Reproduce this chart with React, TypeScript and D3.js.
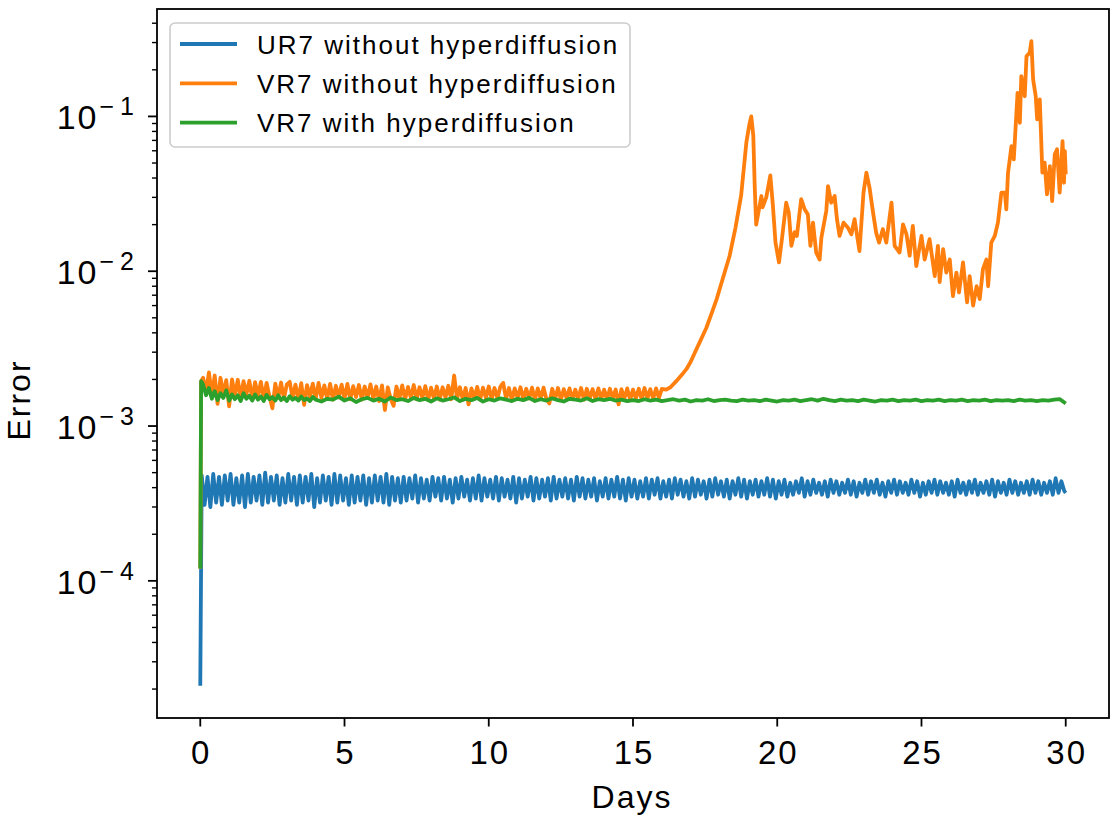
import React from "react";
import * as d3 from "d3";

// ---------------- DATA ----------------
const seriesNames = [
  "UR7 without hyperdiffusion",
  "VR7 without hyperdiffusion",
  "VR7 with hyperdiffusion",
];
const seriesColors = ["#1f77b4", "#ff7f0e", "#2ca02c"];
const xTicks = [0, 5, 10, 15, 20, 25, 30];
const yMajorExponents = [-4, -3, -2, -1];

// UR7 without hyperdiffusion (blue) - start point, then oscillation samples every 0.1 day
const blueStartDays = [0];
const blueStartValues = [0.000021];
const blueGridDays = d3.range(0.05, 30, 0.1);
const blueGridValues = [
  0.00048,0.00031,0.00047,0.00030,0.00049,0.00032,0.00047,0.00031,0.00048,0.00033,0.00049,0.00031,0.00046,0.00032,0.00048,0.00030,0.00049,0.00032,0.00047,0.00033,
  0.00048,0.00031,0.00050,0.00032,0.00047,0.00033,0.00048,0.00031,0.00046,0.00032,0.00049,0.00033,0.00047,0.00031,0.00048,0.00032,0.00047,0.00033,0.00049,0.00030,
  0.00046,0.00032,0.00048,0.00033,0.00047,0.00031,0.00049,0.00032,0.00048,0.00033,0.00046,0.00031,0.00048,0.00032,0.00047,0.00033,0.00048,0.00031,0.00046,0.00032,
  0.00048,0.00033,0.00047,0.00032,0.00049,0.00031,0.00047,0.00033,0.00046,0.00032,
  0.00047,0.00033,0.00046,0.00034,0.00048,0.00032,0.00046,0.00034,0.00045,0.00033,0.00047,0.00035,0.00046,0.00033,0.00047,0.00034,0.00045,0.00032,0.00046,0.00034,
  0.00047,0.00035,0.00045,0.00033,0.00046,0.00034,0.00048,0.00033,0.00046,0.00035,0.00045,0.00034,0.00047,0.00033,0.00046,0.00035,0.00045,0.00034,0.00047,0.00032,
  0.00046,0.00034,0.00045,0.00035,0.00047,0.00033,0.00046,0.00034,0.00045,0.00035,0.00046,0.00033,0.00047,0.00034,0.00045,0.00035,0.00046,0.00034,0.00045,0.00033,
  0.00047,0.00035,0.00046,0.00034,0.00045,0.00035,0.00046,0.00033,0.00044,0.00035,0.00046,0.00034,0.00045,0.00035,0.00047,0.00034,0.00045,0.00033,0.00046,0.00035,
  0.00045,0.00034,0.00044,0.00035,0.00046,0.00034,0.00045,0.00036,0.00046,0.00034,0.00044,0.00035,0.00045,0.00034,0.00046,0.00036,0.00045,0.00035,0.00044,0.00034,
  0.00046,0.00035,0.00045,0.00036,0.00044,0.00034,0.00045,0.00035,0.00046,0.00036,0.00044,0.00035,0.00045,0.00034,0.00044,0.00036,0.00046,0.00035,0.00045,0.00034,
  0.00044,0.00036,0.00045,0.00035,0.00044,0.00036,0.00046,0.00035,0.00045,0.00034,
  0.00044,0.00036,0.00045,0.00035,0.00043,0.00036,0.00044,0.00037,0.00046,0.00035,0.00044,0.00036,0.00045,0.00037,0.00043,0.00036,0.00044,0.00035,0.00045,0.00037,
  0.00044,0.00036,0.00043,0.00037,0.00045,0.00036,0.00044,0.00035,0.00043,0.00037,0.00045,0.00036,0.00044,0.00037,0.00045,0.00036,0.00043,0.00035,0.00044,0.00037,
  0.00045,0.00036,0.00044,0.00037,0.00043,0.00036,0.00045,0.00037,0.00044,0.00035,0.00043,0.00036,0.00044,0.00037,0.00045,0.00036,0.00044,0.00037,0.00043,0.00036,
  0.00044,0.00035,0.00045,0.00037,0.00043,0.00036,0.00044,0.00037,0.00045,0.00036,0.00043,0.00037,0.00044,0.00036,0.00045,0.00035,0.00044,0.00037,0.00043,0.00036,
  0.00045,0.00037,0.00044,0.00036,0.00043,0.00037,0.00044,0.00036,0.00045,0.00037,0.00044,0.00036,0.00043,0.00037,0.00044,0.00036,0.00046,0.00037,0.00044,0.00038,
];
const blueEndDays = [30];
const blueEndValues = [0.00037];

// VR7 without hyperdiffusion (orange)
const orangeStartDays = [0, 0.03];
const orangeStartValues = [0.00012, 0.00195];
const orangeGridDays = d3.range(0.1, 16.05, 0.1);
const orangeGridValues = [
  0.00205,0.00165,0.00222,0.00158,0.00212,0.00139,0.00205,0.00160,0.00198,0.00134,0.00200,0.00158,0.00199,0.00152,0.00195,0.00160,0.00196,0.00150,0.00192,0.00156,
  0.00193,0.00150,0.00190,0.00155,0.00130,0.00188,0.00152,0.00191,0.00150,0.00186,0.00193,0.00152,0.00185,0.00149,0.00189,0.00137,0.00184,0.00155,0.00188,0.00150,
  0.00190,0.00152,0.00183,0.00150,0.00187,0.00148,0.00182,0.00153,0.00185,0.00150,0.00187,0.00149,0.00181,0.00154,0.00184,0.00148,0.00180,0.00152,0.00186,0.00150,
  0.00180,0.00145,0.00183,0.00127,0.00178,0.00150,0.00135,0.00180,0.00150,0.00183,0.00148,0.00179,0.00152,0.00184,0.00149,0.00178,0.00152,0.00181,0.00147,0.00177,
  0.00150,0.00180,0.00148,0.00178,0.00153,0.00182,0.00149,0.00212,0.00150,0.00178,0.00148,0.00176,0.00138,0.00175,0.00151,0.00179,0.00148,0.00177,0.00152,0.00180,
  0.00149,0.00176,0.00151,0.00179,0.00190,0.00150,0.00176,0.00148,0.00175,0.00152,0.00178,0.00149,0.00174,0.00151,0.00177,0.00148,0.00175,0.00150,0.00177,0.00149,
  0.00140,0.00174,0.00150,0.00176,0.00148,0.00173,0.00151,0.00175,0.00149,0.00172,0.00150,0.00176,0.00148,0.00174,0.00151,0.00173,0.00149,0.00175,0.00150,0.00172,
  0.00149,0.00174,0.00151,0.00172,0.00138,0.00173,0.00150,0.00175,0.00148,0.00172,0.00151,0.00174,0.00149,0.00176,0.00151,0.00173,0.00150,0.00175,0.00152,0.00174,
];
const orangeLateDays = [
  16.15,16.3,16.5,16.7,16.85,17.0,17.15,17.31,17.54,17.75,17.9,18.1,18.35,18.55,18.75,18.93,19.03,19.10,19.17,19.22,19.27,
  19.45,19.49,19.62,19.76,19.85,19.94,20.06,20.17,20.31,20.40,20.49,20.60,20.68,20.83,20.95,21.06,21.15,21.24,21.35,21.47,
  21.53,21.70,21.76,21.87,21.99,22.07,22.16,22.30,22.45,22.57,22.68,22.85,22.99,23.09,23.20,23.32,23.43,23.53,23.66,23.78,
  23.96,24.07,24.24,24.36,24.48,24.59,24.70,24.82,25.00,25.11,25.28,25.46,25.57,25.63,25.75,25.86,25.98,26.09,26.21,26.30,
  26.44,26.58,26.67,26.79,26.91,27.02,27.13,27.25,27.31,27.42,27.54,27.65,27.77,27.89,27.94,28.00,28.12,28.20,28.33,28.41,
  28.46,28.58,28.64,28.75,28.81,28.87,28.96,29.01,29.10,29.19,29.27,29.35,29.45,29.53,29.62,29.70,29.79,29.89,29.94,29.97,30.0,
];
const orangeLateValues = [
  0.00172,0.00178,0.00195,0.00215,0.00233,0.0026,0.0030,0.00347,0.0043,0.0055,0.0066,0.0088,0.0126,0.019,0.031,0.068,0.088,0.100,0.075,0.035,0.020,
  0.0306,0.0259,0.0300,0.0416,0.0264,0.0153,0.0114,0.0166,0.0277,0.0240,0.0146,0.0179,0.0169,0.0292,0.0251,0.0233,0.0146,0.0206,0.0132,0.0119,
  0.0165,0.0245,0.0355,0.0277,0.0306,0.0217,0.0169,0.0206,0.0191,0.0173,0.0217,0.0135,0.0322,0.0433,0.0346,0.0240,0.0177,0.0153,0.0187,0.0153,
  0.0277,0.0146,0.0132,0.0201,0.0173,0.0126,0.0196,0.0108,0.0169,0.0119,0.0161,0.0093,0.0146,0.0085,0.0139,0.0098,0.0119,0.0069,0.0098,0.0073,
  0.0114,0.0063,0.0093,0.0060,0.0080,0.0066,0.0103,0.0119,0.0080,0.0153,0.0169,0.0206,0.0322,0.0322,0.0251,0.0433,0.0643,0.0528,0.142,0.091,
  0.182,0.135,0.245,0.258,0.306,0.173,0.135,0.0957,0.129,0.0433,0.0503,0.0314,0.0478,0.0284,0.057,0.0613,0.0322,0.0693,0.0373,0.0597,0.0422,
];

// VR7 with hyperdiffusion (green)
const greenStartDays = [0, 0.03];
const greenStartValues = [0.00012, 0.00195];
const greenEarlyDays = d3.range(0.1, 4.05, 0.1);
const greenEarlyValues = [
  0.00185,0.00158,0.00176,0.00150,0.00168,0.00147,0.00163,0.00152,0.00170,0.00146,0.00160,0.00149,0.00158,0.00145,0.00163,0.00150,0.00157,0.00146,0.00160,0.00148,
  0.00155,0.00145,0.00159,0.00149,0.00154,0.00146,0.00158,0.00147,0.00153,0.00145,0.00156,0.00148,0.00152,0.00146,0.00155,0.00147,0.00151,0.00145,0.00154,0.00148,
];
const greenLateDays = d3.range(4.2, 29.9, 0.2);
const greenLateValues = [
  0.00144,0.00150,0.00148,0.00155,
  0.00146,0.00151,0.00143,0.00149,0.00152,0.00146,0.00150,0.00144,0.00153,0.00147,
  0.00149,0.00145,0.00152,0.00147,0.00150,0.00144,0.00151,0.00146,0.00149,0.00153,
  0.00145,0.00150,0.00147,0.00152,0.00144,0.00149,0.00146,0.00151,0.00148,0.00145,
  0.00150,0.00147,0.00152,0.00145,0.00149,0.00146,0.00151,0.00147,0.00144,0.00150,
  0.00148,0.00146,0.00151,0.00145,0.00149,0.00147,0.00150,0.00146,0.00148,0.00145,
  0.00147,0.00145,0.00149,0.00146,0.00148,0.00145,0.00147,0.00149,0.00146,0.00148,
  0.00144,0.00147,0.00146,0.00149,0.00145,0.00147,0.00148,0.00146,0.00145,0.00148,
  0.00146,0.00147,0.00145,0.00148,0.00146,0.00144,0.00147,0.00146,0.00148,0.00145,
  0.00147,0.00149,0.00146,0.00150,0.00147,0.00145,0.00148,0.00146,0.00147,0.00145,
  0.00148,0.00146,0.00144,0.00147,0.00146,0.00148,0.00145,0.00147,0.00146,0.00148,
  0.00145,0.00147,0.00146,0.00148,0.00145,0.00147,0.00146,0.00148,0.00145,0.00147,
  0.00146,0.00148,0.00145,0.00147,0.00146,0.00147,0.00145,0.00148,0.00146,0.00147,
  0.00145,0.00147,0.00146,0.00148,0.00149,
];
const greenEndDays = [30];
const greenEndValues = [0.0014];

// ---------------- BUILD ----------------
type Pt = [number, number];
const zip = (xs: number[], ys: number[]): Pt[] =>
  xs.slice(0, ys.length).map((d, i) => [d, ys[i]] as Pt);

const blueData: Pt[] = [
  ...zip(blueStartDays, blueStartValues),
  ...zip(blueGridDays, blueGridValues),
  ...zip(blueEndDays, blueEndValues),
];
const orangeData: Pt[] = [
  ...zip(orangeStartDays, orangeStartValues),
  ...zip(orangeGridDays, orangeGridValues),
  ...zip(orangeLateDays, orangeLateValues),
];
const greenData: Pt[] = [
  ...zip(greenStartDays, greenStartValues),
  ...zip(greenEarlyDays, greenEarlyValues),
  ...zip(greenLateDays, greenLateValues),
  ...zip(greenEndDays, greenEndValues),
];
const allSeries = [blueData, orangeData, greenData];

const W = 1110;
const H = 815;
const plot = { left: 157, right: 1109, top: 9, bottom: 718 };

const allPts = allSeries.flat();
const xExt = d3.extent(allPts, (p) => p[0]) as [number, number];
const yExt = d3.extent(allPts, (p) => p[1]) as [number, number];
const xPad = (xExt[1] - xExt[0]) * 0.05;
const lyMin = Math.log10(yExt[0]);
const lyMax = Math.log10(yExt[1]);
const lyPad = (lyMax - lyMin) * 0.05;

const x = d3.scaleLinear().domain([xExt[0] - xPad, xExt[1] + xPad]).range([plot.left, plot.right]);
const y = d3
  .scaleLog()
  .domain([Math.pow(10, lyMin - lyPad), Math.pow(10, lyMax + lyPad)])
  .range([plot.bottom, plot.top]);

const line = d3
  .line<Pt>()
  .x((p) => x(p[0]))
  .y((p) => y(p[1]));

const [yLo, yHi] = y.domain();
const minorTicks: number[] = [];
for (let e = Math.floor(Math.log10(yLo)); e <= Math.ceil(Math.log10(yHi)); e++) {
  for (let k = 2; k <= 9; k++) {
    const v = k * Math.pow(10, e);
    if (v >= yLo && v <= yHi) minorTicks.push(v);
  }
}

const FONT = "'Liberation Sans', Arial, Helvetica, sans-serif";
const LW = 3.8;

export default function App() {
  return (
    <svg
      width={W}
      height={H}
      viewBox={`0 0 ${W} ${H}`}
      style={{ position: "absolute", left: 0, top: 0, background: "#fff" }}
      fontFamily={FONT}
    >
      <rect x={0} y={0} width={W} height={H} fill="#fff" />
      <defs>
        <clipPath id="plotclip">
          <rect x={plot.left} y={plot.top} width={plot.right - plot.left} height={plot.bottom - plot.top} />
        </clipPath>
      </defs>

      {/* lines */}
      <g clipPath="url(#plotclip)">
        {allSeries.map((s, i) => (
          <path
            key={i}
            d={line(s) || ""}
            fill="none"
            stroke={seriesColors[i]}
            strokeWidth={LW}
            strokeLinejoin="round"
            strokeLinecap="butt"
          />
        ))}
      </g>

      {/* axes frame */}
      <rect
        x={plot.left}
        y={plot.top}
        width={plot.right - plot.left}
        height={plot.bottom - plot.top}
        fill="none"
        stroke="#000"
        strokeWidth={1.8}
      />

      {/* x ticks */}
      {xTicks.map((t) => (
        <g key={t}>
          <line x1={x(t)} x2={x(t)} y1={plot.bottom} y2={plot.bottom + 8.5} stroke="#000" strokeWidth={1.8} />
          <text x={x(t) + 1} y={764} textAnchor="middle" fontSize={33} letterSpacing={2} fill="#000">
            {t}
          </text>
        </g>
      ))}

      {/* y minor ticks */}
      {minorTicks.map((v, i) => (
        <line key={i} x1={plot.left - 5} x2={plot.left} y1={y(v)} y2={y(v)} stroke="#000" strokeWidth={1.4} />
      ))}

      {/* y major ticks */}
      {yMajorExponents.map((e) => {
        const v = Math.pow(10, e);
        const yy = y(v);
        return (
          <g key={e}>
            <line x1={plot.left - 9} x2={plot.left} y1={yy} y2={yy} stroke="#000" strokeWidth={1.8} />
            <text x={134} y={yy + 13} textAnchor="end" fill="#000">
              <tspan fontSize={34} letterSpacing={2}>10</tspan>
              <tspan dy={-14} dx={1} fontSize={25}>{"\u2212"}</tspan>
              <tspan dx={6} fontSize={25}>{String(Math.abs(e))}</tspan>
            </text>
          </g>
        );
      })}

      {/* axis labels */}
      <text x={632} y={808} textAnchor="middle" fontSize={32} letterSpacing={2} fill="#000">
        Days
      </text>
      <text
        transform={`translate(30, 400) rotate(-90)`}
        textAnchor="middle"
        fontSize={32}
        letterSpacing={2}
        fill="#000"
      >
        Error
      </text>

      {/* legend */}
      <g>
        <rect x={170} y={23} width={460} height={124} rx={5} ry={5} fill="#fff" fillOpacity={0.8} stroke="#cccccc" strokeWidth={1.6} />
        {seriesNames.map((name, i) => {
          const ly = 44 + i * 39.3;
          return (
            <g key={name}>
              <line x1={180} x2={237} y1={ly} y2={ly} stroke={seriesColors[i]} strokeWidth={LW} />
              <text x={257} y={ly + 9.5} fontSize={26} letterSpacing={2} fill="#000">
                {name}
              </text>
            </g>
          );
        })}
      </g>
    </svg>
  );
}
